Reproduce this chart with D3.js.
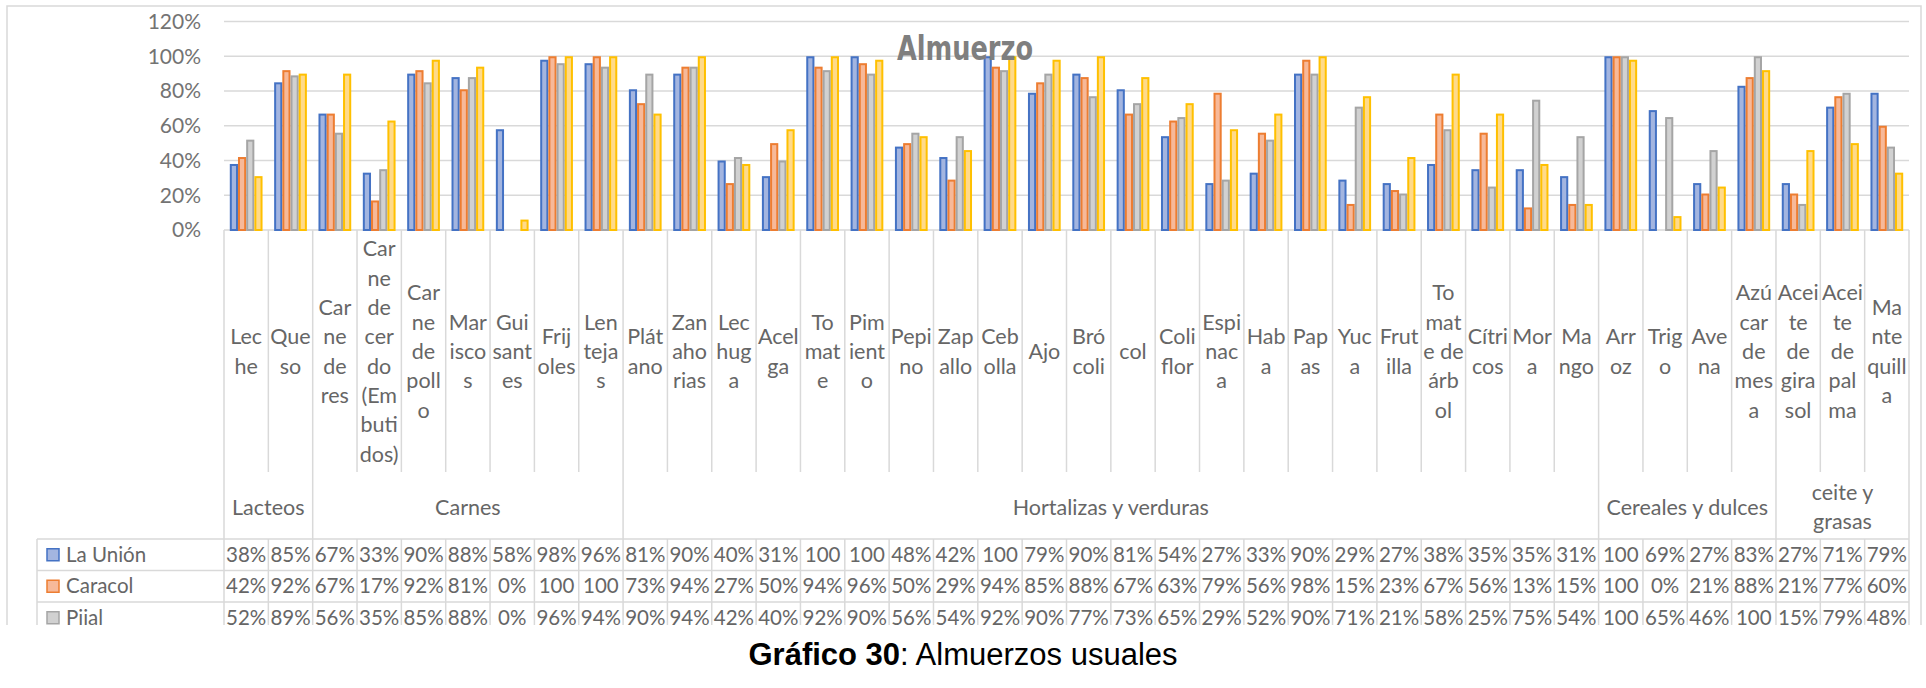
<!DOCTYPE html>
<meta charset="utf-8">
<style>
body { margin: 0; background: #fff; }
text { font-family: Lato, "Open Sans", sans-serif; }
</style>
<body>
<script src="https://cdn.jsdelivr.net/npm/d3@7"></script>
<script>

const categories = ["Leche", "Queso", "Carne de res", "Carne de cerdo (Embutidos)", "Carne de pollo",
  "Mariscos", "Guisantes", "Frijoles", "Lentejas", "Plátano", "Zanahorias", "Lechuga", "Acelga",
  "Tomate", "Pimiento", "Pepino", "Zapallo", "Cebolla", "Ajo", "Brócoli", "col", "Coliflor",
  "Espinaca", "Haba", "Papas", "Yuca", "Frutilla", "Tomate de árbol", "Cítricos", "Mora", "Mango",
  "Arroz", "Trigo", "Avena", "Azúcar de mesa", "Aceite de girasol", "Aceite de palma", "Mantequilla"];

// how Excel wrapped each label inside its narrow cell
const labelLines = [["Lec","he"],["Que","so"],["Car","ne","de","res"],
  ["Car","ne","de","cer","do","(Em","buti","dos)"],["Car","ne","de","poll","o"],["Mar","isco","s"],
  ["Gui","sant","es"],["Frij","oles"],["Len","teja","s"],["Plát","ano"],["Zan","aho","rias"],
  ["Lec","hug","a"],["Acel","ga"],["To","mat","e"],["Pim","ient","o"],["Pepi","no"],["Zap","allo"],
  ["Ceb","olla"],["Ajo"],["Bró","coli"],["col"],["Coli","flor"],["Espi","nac","a"],["Hab","a"],
  ["Pap","as"],["Yuc","a"],["Frut","illa"],["To","mat","e de","árb","ol"],["Cítri","cos"],["Mor","a"],
  ["Ma","ngo"],["Arr","oz"],["Trig","o"],["Ave","na"],["Azú","car","de","mes","a"],
  ["Acei","te","de","gira","sol"],["Acei","te","de","pal","ma"],["Ma","nte","quill","a"]];

const groups = ["Lacteos", "Carnes", "Hortalizas y verduras", "Cereales y dulces", "Aceite y grasas"];
const groupSizes = [2, 7, 22, 4, 3];
const groupLines = [["Lacteos"], ["Carnes"], ["Hortalizas y verduras"], ["Cereales y dulces"], ["ceite y", "grasas"]];

const seriesNames = ["La Unión", "Caracol", "Pijal", ""];
const laUnion = [38,85,67,33,90,88,58,98,96,81,90,40,31,100,100,48,42,100,79,90,81,54,27,33,90,29,27,38,35,35,31,100,69,27,83,27,71,79];
const caracol = [42,92,67,17,92,81,0,100,100,73,94,27,50,94,96,50,29,94,85,88,67,63,79,56,98,15,23,67,56,13,15,100,0,21,88,21,77,60];
const pijal   = [52,89,56,35,85,88,0,96,94,90,94,42,40,92,90,56,54,92,90,77,73,65,29,52,90,71,21,58,25,75,54,100,65,46,100,15,79,48];
const serie4  = [31,90,90,63,98,94,6,100,100,67,100,38,58,100,98,54,46,100,98,100,88,73,58,67,100,77,42,90,67,38,15,98,8,25,92,46,50,33];
const series = [laUnion, caracol, pijal, serie4];
const tableRows = 3;   // the fourth row is hidden under the caption

const yTicks = [0, 20, 40, 60, 80, 100, 120];

const strokes = ["#4472c4", "#ed7d31", "#a5a5a5", "#ffc000"];
const fills   = ["#a3b5e0", "#f7b999", "#d1d1d1", "#ffda8a"];
const textCol = "#666666";
const lineCol = "#d9d9d9";

const width = 1926, height = 688;
const svg = d3.select("body").append("svg")
    .attr("width", width)
    .attr("height", height);

const x = d3.scaleBand().domain(categories).range([224, 1909]);
const bw = x.bandwidth();
const xs = d3.scaleBand().domain(d3.range(series.length)).range([5.8, bw - 5.8]);
const y = d3.scaleLinear().domain([0, 120]).range([230, 21.5]);

// chart frame
svg.append("rect")
    .attr("x", 7).attr("y", 6)
    .attr("width", 1914).attr("height", 660)
    .attr("fill", "#fff")
    .attr("stroke", lineCol).attr("stroke-width", 1.5);

// gridlines
svg.append("g")
  .selectAll("line")
  .data(yTicks)
  .join("line")
    .attr("x1", 224).attr("x2", 1909)
    .attr("y1", d => y(d)).attr("y2", d => y(d))
    .attr("stroke", lineCol).attr("stroke-width", 1.5);

svg.append("g")
  .selectAll("text")
  .data(yTicks)
  .join("text")
    .attr("x", 201)
    .attr("y", d => y(d))
    .attr("dy", "0.35em")
    .attr("text-anchor", "end")
    .attr("fill", "#737373")
    .attr("font-size", 21)
    .text(d => d + "%");

// bars
series.forEach((vals, s) => {
  svg.append("g")
    .selectAll("rect")
    .data(vals.map((v, i) => ({v, c: categories[i]})).filter(d => d.v > 0))
    .join("rect")
      .attr("x", d => x(d.c) + xs(s) + 1)
      .attr("width", xs.bandwidth() - 2)
      .attr("y", d => y(d.v) + 1)
      .attr("height", d => y(0) - y(d.v) - 1)
      .attr("fill", fills[s])
      .attr("stroke", strokes[s])
      .attr("stroke-width", 2);
});

svg.append("text")
    .attr("x", 965).attr("y", 60)
    .attr("text-anchor", "middle")
    .style("font-family", "'DejaVu Sans', sans-serif")
    .attr("font-weight", "bold")
    .attr("font-size", 33)
    .attr("textLength", 136)
    .attr("lengthAdjust", "spacingAndGlyphs")
    .attr("fill", "#7f7f7f")
    .text("Almuerzo");

// category labels
const lineH = 29.3;
const catG = svg.append("g")
  .selectAll("text")
  .data(categories)
  .join("text")
    .attr("text-anchor", "middle")
    .attr("fill", textCol)
    .attr("font-size", 21.5);
catG.each(function(c, i) {
  const lines = labelLines[i];
  const y0 = 351.5 - (lines.length - 1) / 2 * lineH;
  d3.select(this).selectAll("tspan")
    .data(lines)
    .join("tspan")
      .attr("x", x(c) + bw / 2)
      .attr("y", (d, k) => y0 + k * lineH)
      .attr("dy", "0.35em")
      .text(d => d);
});

// group row
const groupStart = d3.cumsum([0, ...groupSizes]);
groups.forEach((g, gi) => {
  const x0 = 224 + groupStart[gi] * bw, x1 = 224 + groupStart[gi + 1] * bw;
  const lines = groupLines[gi];
  const y0 = 507 - (lines.length - 1) / 2 * lineH;
  svg.append("text")
      .attr("text-anchor", "middle")
      .attr("fill", textCol)
      .attr("font-size", 21.5)
    .selectAll("tspan")
    .data(lines)
    .join("tspan")
      .attr("x", (x0 + x1) / 2)
      .attr("y", (d, k) => y0 + k * lineH)
      .attr("dy", "0.35em")
      .text(d => d);
});

// table grid
const rowTop = 539, rowH = 31.5;
const grid = svg.append("g").attr("stroke", lineCol).attr("stroke-width", 1.5);
d3.range(categories.length + 1).forEach(i => {
  const gx = 224 + i * bw;
  const isGroup = groupStart.includes(i);
  grid.append("line").attr("x1", gx).attr("x2", gx)
      .attr("y1", 230).attr("y2", isGroup ? 640 : 472);
  if (!isGroup)
    grid.append("line").attr("x1", gx).attr("x2", gx)
        .attr("y1", rowTop).attr("y2", 640);
});
d3.range(tableRows + 1).forEach(r => {
  grid.append("line").attr("x1", 37).attr("x2", 1909)
      .attr("y1", rowTop + r * rowH).attr("y2", rowTop + r * rowH);
});
grid.append("line").attr("x1", 37).attr("x2", 37).attr("y1", rowTop).attr("y2", 640);

// table rows
const fmt = v => v === 100 ? "100" : v + "%";
d3.range(tableRows).forEach(r => {
  const cy = rowTop + r * rowH + rowH / 2;
  svg.append("rect")
      .attr("x", 47).attr("y", cy - 6)
      .attr("width", 12).attr("height", 12)
      .attr("fill", fills[r]).attr("stroke", strokes[r]).attr("stroke-width", 1.5);
  svg.append("text")
      .attr("x", 66).attr("y", cy).attr("dy", "0.35em")
      .attr("fill", textCol).attr("font-size", 20.5)
      .text(seriesNames[r]);
  svg.append("g")
    .selectAll("text")
    .data(series[r])
    .join("text")
      .attr("x", (d, i) => x(categories[i]) + bw / 2)
      .attr("y", cy).attr("dy", "0.35em")
      .attr("text-anchor", "middle")
      .attr("fill", textCol).attr("font-size", 20.5)
      .text(fmt);
});

// caption box
svg.append("rect")
    .attr("x", 0).attr("y", 625)
    .attr("width", width).attr("height", height - 625)
    .attr("fill", "#fff");
const cap = svg.append("text")
    .attr("x", 963).attr("y", 665)
    .attr("text-anchor", "middle")
    .style("font-family", "'Liberation Sans', Arial, sans-serif")
    .attr("font-size", 31)
    .attr("fill", "#000");
cap.append("tspan").attr("font-weight", "bold").text("Gráfico 30");
cap.append("tspan").text(": Almuerzos usuales");

</script>
